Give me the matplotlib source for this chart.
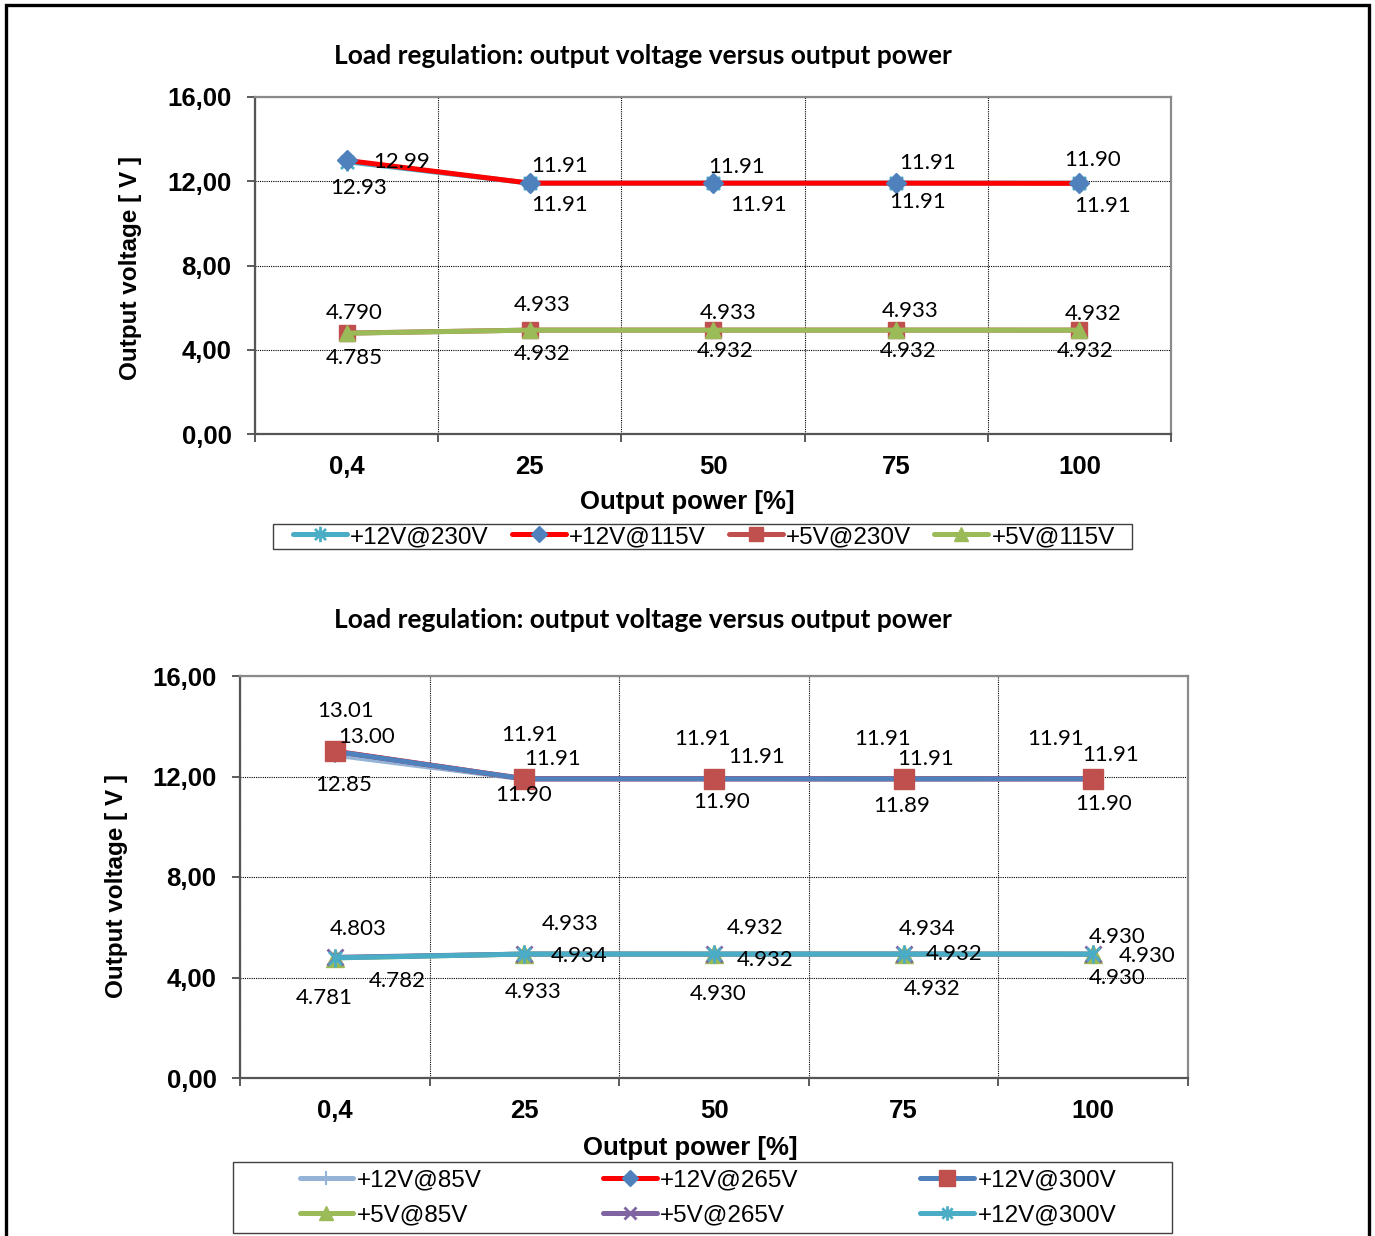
import numpy as np
import matplotlib
matplotlib.use('Agg')
import matplotlib.pyplot as plt
from matplotlib.path import Path
from matplotlib.patches import Rectangle

# ---------------- data ----------------
categories = ['0,4', '25', '50', '75', '100']
y_ticks = [0, 4, 8, 12, 16]
y_tick_labels = ['0,00', '4,00', '8,00', '12,00', '16,00']

title_text = 'Load regulation: output voltage versus output power'
xlabel_text = 'Output power [%]'
ylabel_text = 'Output voltage [ V ]'

# top chart
v12_230 = [12.93, 11.91, 11.91, 11.91, 11.91]
v12_115 = [12.99, 11.91, 11.91, 11.91, 11.90]
v5_230 = [4.790, 4.933, 4.933, 4.933, 4.932]
v5_115 = [4.785, 4.932, 4.932, 4.932, 4.932]

# bottom chart
v12_85 = [12.85, 11.90, 11.90, 11.89, 11.90]
v12_265 = [13.01, 11.91, 11.91, 11.91, 11.91]
v12_300 = [13.00, 11.91, 11.91, 11.91, 11.91]
v5_85 = [4.781, 4.933, 4.930, 4.932, 4.930]
v5_265 = [4.803, 4.933, 4.932, 4.934, 4.930]
v5_300 = [4.782, 4.934, 4.932, 4.932, 4.930]

# ---------------- style ----------------
W, H = 1375, 1236
fig = plt.figure(figsize=(W / 100, H / 100), dpi=100)

def fx(x):
    return x / W

def fy(y):
    return 1 - y / H

STAR = Path([(0, -1), (0, 1), (-0.72, -0.72), (0.72, 0.72), (-0.72, 0.72), (0.72, -0.72)],
            [Path.MOVETO, Path.LINETO, Path.MOVETO, Path.LINETO, Path.MOVETO, Path.LINETO])

TICKFONT = dict(family='Liberation Sans', weight='bold', size=18.5)
XLABELFONT = dict(family='Liberation Sans', weight='bold', size=18.5)
YLABELFONT = dict(family='Liberation Sans', weight='bold', size=17.5)
TITLEFONT = dict(family='Lato', weight='bold', size=19)
DATAFONT = dict(family='Lato', size=16)
LEGFONT = dict(family='Liberation Sans', size=17.5)

C_CYAN = '#4BACC6'
C_RED = '#FF0000'
C_BLUE = '#4F81BD'
C_BROWN = '#C0504D'
C_GREEN = '#9BBB59'
C_LBLUE = '#95B3D7'
C_PURPLE = '#8064A2'


def setup_axes(ax):
    ax.set_xlim(-0.5, 4.5)
    ax.set_ylim(0, 16)
    ax.set_xticks(range(len(categories)))
    ax.set_xticklabels(categories, **TICKFONT)
    ax.set_xticks(np.arange(-0.5, len(categories), 1.0), minor=True)
    ax.set_yticks(y_ticks)
    ax.set_yticklabels(y_tick_labels, **TICKFONT)
    ax.tick_params(axis='x', which='major', length=0, pad=15)
    ax.tick_params(axis='x', which='minor', length=6, width=1.2, color='#404040', direction='out')
    ax.tick_params(axis='y', which='major', length=6, width=1.2, color='#404040', direction='out', pad=11)
    ax.grid(which='minor', axis='x', linestyle=(0, (1, 1)), color='black', lw=0.8)
    ax.grid(which='major', axis='y', linestyle=(0, (1, 1)), color='black', lw=0.8)
    ax.grid(which='major', axis='x', visible=False)
    ax.set_axisbelow(True)
    for s in ['left', 'bottom']:
        ax.spines[s].set_color('#555555')
        ax.spines[s].set_linewidth(1.6)
    for s in ['top', 'right']:
        ax.spines[s].set_color('#8a8a8a')
        ax.spines[s].set_linewidth(1.6)


def plot_series(ax, vals, color, marker, mfc, mec, ms, mew, label, fmt, offsets, lw=3.6, z=3):
    x = np.arange(len(vals))
    line, = ax.plot(x, vals, color=color, lw=lw, marker=marker, ms=ms, mfc=mfc, mec=mec,
                    mew=mew, label=label, zorder=z, solid_capstyle='round')
    for xi, v, (dx, dy) in zip(x, vals, offsets):
        ax.annotate(fmt.format(v), (xi, v), xytext=(dx, dy), textcoords='offset pixels',
                    ha='center', va='center', zorder=10, **DATAFONT)
    return line


def box(x0, y0, x1, y1):
    fig.patches.append(Rectangle((fx(x0), fy(y1)), fx(x1 - x0), (y1 - y0) / H,
                                 transform=fig.transFigure, fill=False,
                                 edgecolor='#404040', lw=1.0))

# ---------------- top chart ----------------
ax1 = fig.add_axes([fx(255), fy(434), fx(1171 - 255), (434 - 97) / H])
setup_axes(ax1)

h_230 = plot_series(ax1, v12_230, C_CYAN, STAR, 'none', C_CYAN, 13, 2.0, '+12V@230V', '{:.2f}',
                    [(12, -26), (30, -22), (46, -22), (21, -19), (23, -23)], z=3)
h_115 = plot_series(ax1, v12_115, C_RED, 'D', C_BLUE, C_BLUE, 10, 1, '+12V@115V', '{:.2f}',
                    [(55, -2), (30, 17), (24, 16), (31, 20), (13, 23)], z=4)
h5_230 = plot_series(ax1, v5_230, C_BROWN, 's', C_BROWN, C_BROWN, 12, 1, '+5V@230V', '{:.3f}',
                     [(8, 20), (12, 25), (15, 17), (14, 19), (14, 16)], z=3)
h5_115 = plot_series(ax1, v5_115, C_GREEN, '^', C_GREEN, C_GREEN, 12, 1, '+5V@115V', '{:.3f}',
                     [(8, -25), (12, -24), (12, -21), (12, -21), (6, -21)], z=4)

fig.text(fx(643), fy(56), title_text, ha='center', va='center', **TITLEFONT)
fig.text(fx(687), fy(502), xlabel_text, ha='center', va='center', **XLABELFONT)
fig.text(fx(130), fy(268), ylabel_text, ha='center', va='center', rotation=90, **YLABELFONT)

leg1 = fig.legend([h_230, h_115, h5_230, h5_115], ['+12V@230V', '+12V@115V', '+5V@230V', '+5V@115V'],
                  loc='center', bbox_to_anchor=(fx(704), fy(537)), ncol=4, frameon=False,
                  prop=LEGFONT, handlelength=2.2, handletextpad=0.15, columnspacing=0.95,
                  borderpad=0.0, borderaxespad=0, markerscale=0.85)
box(273, 524, 1132, 549)

# ---------------- bottom chart ----------------
ax2 = fig.add_axes([fx(240), fy(1078), fx(1188 - 240), (1078 - 676) / H])
setup_axes(ax2)

b12_85 = plot_series(ax2, v12_85, C_LBLUE, '+', C_LBLUE, C_LBLUE, 12, 1.5, '+12V@85V', '{:.2f}',
                     [(9, -30), (-1, -16), (8, -23), (-2, -27), (10, -25)], z=3)
b12_265 = plot_series(ax2, v12_265, C_RED, 'D', C_BLUE, C_BLUE, 10, 1, '+12V@265V', '{:.2f}',
                      [(11, 40), (5, 44), (-11, 40), (-21, 40), (-38, 40)], z=4)
b12_300 = plot_series(ax2, v12_300, C_BLUE, 's', C_BROWN, C_BROWN, 14, 1, '+12V@300V', '{:.2f}',
                      [(32, 14), (28, 20), (43, 22), (22, 20), (17, 24)], z=5)
b5_85 = plot_series(ax2, v5_85, C_GREEN, '^', C_GREEN, C_GREEN, 13, 1, '+5V@85V', '{:.3f}',
                    [(-11, -40), (9, -38), (4, -40), (29, -35), (24, -24)], z=3)
b5_265 = plot_series(ax2, v5_265, C_PURPLE, 'x', C_PURPLE, C_PURPLE, 11, 2, '+5V@265V', '{:.3f}',
                     [(23, 28), (46, 30), (41, 26), (24, 25), (24, 17)], z=4)
b5_300 = plot_series(ax2, v5_300, C_CYAN, STAR, 'none', C_CYAN, 13, 2.0, '+12V@300V', '{:.3f}',
                     [(62, -23), (55, -2), (51, -6), (51, 0), (54, -2)], z=5)

fig.text(fx(643), fy(620), title_text, ha='center', va='center', **TITLEFONT)
fig.text(fx(690), fy(1148), xlabel_text, ha='center', va='center', **XLABELFONT)
fig.text(fx(117), fy(886), ylabel_text, ha='center', va='center', rotation=90, **YLABELFONT)

order = [b12_85, b5_85, b12_265, b5_265, b12_300, b5_300]
leg2 = fig.legend(order, [h.get_label() for h in order],
                  loc='center', bbox_to_anchor=(fx(708), fy(1198)), ncol=3, frameon=False,
                  prop=LEGFONT, handlelength=2.2, handletextpad=0.15, columnspacing=5.0,
                  borderpad=0.0, labelspacing=0.55, borderaxespad=0, markerscale=0.8)
box(233, 1162, 1172, 1233)

# outer frame
fig.patches.append(Rectangle((fx(6), -0.05), fx(1369 - 6), fy(5) + 0.05, transform=fig.transFigure,
                             fill=False, edgecolor='black', lw=2.4, clip_on=False))

fig.savefig('out.png', dpi=100)
